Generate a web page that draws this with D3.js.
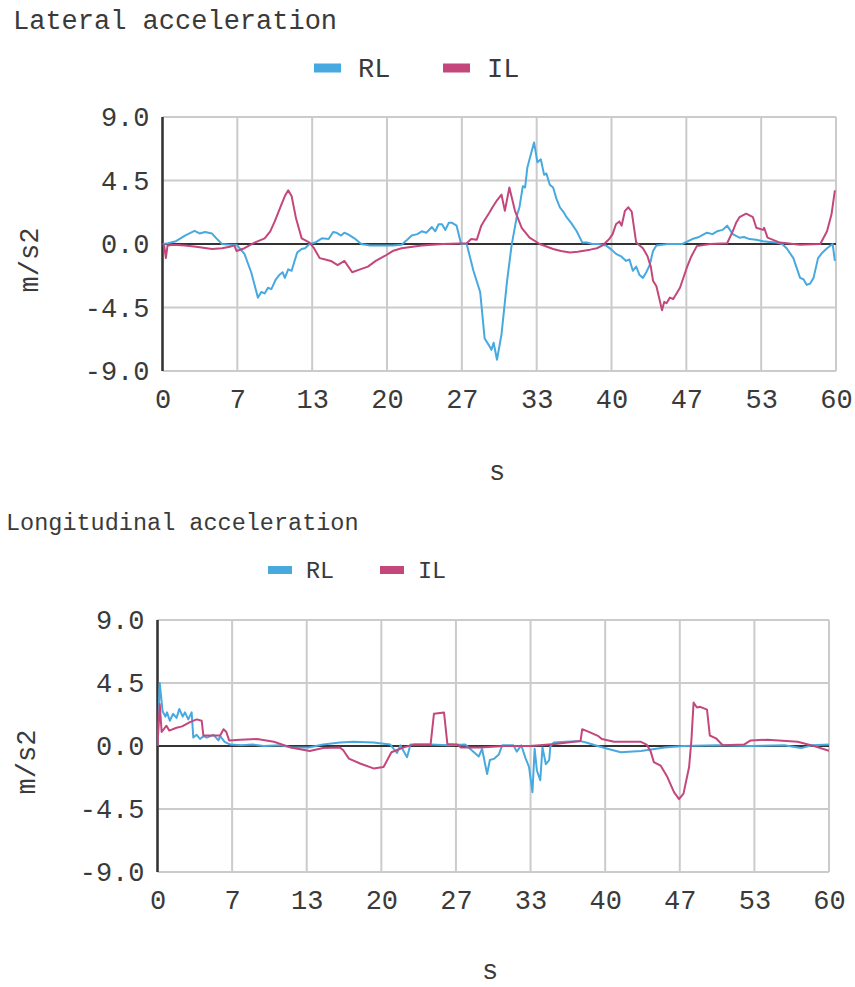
<!DOCTYPE html>
<html><head><meta charset="utf-8">
<script src="https://cdn.jsdelivr.net/npm/d3@7"></script>
<style>
html,body{margin:0;padding:0;background:#fff;}
text{font-family:"Liberation Mono","DejaVu Sans Mono",monospace;fill:#3a3a3a;}
</style></head>
<body>
<svg id="chart" width="855" height="987"></svg>
<script>
// ---------- DATA ----------
const seriesNames = ["RL", "IL"];
const xTickValues = [0, 60/9, 120/9, 20, 240/9, 300/9, 40, 420/9, 480/9, 60];
const xTickLabels = ["0","7","13","20","27","33","40","47","53","60"];
const yTickValues = [9, 4.5, 0, -4.5, -9];
const yTickLabels = ["9.0","4.5","0.0","-4.5","-9.0"];

// Lateral acceleration [time s, m/s2]
const latRL = [[0,0],[0.5,0.05],[1.2,0.2],[2,0.6],[2.85,0.93],[3.3,0.75],[3.8,0.85],[4.4,0.75],[4.8,0.4],[5.3,0],[6,-0.05],[6.6,-0.05],[7.3,-0.7],[7.9,-2.0],[8.5,-3.8],[8.8,-3.4],[9.1,-3.5],[9.4,-3.1],[9.7,-3.2],[10.1,-2.5],[10.4,-2.2],[10.7,-2.0],[10.9,-2.4],[11.2,-1.8],[11.5,-1.9],[12.0,-0.6],[12.4,-0.35],[12.7,-0.3],[13.1,0],[13.6,0.1],[14.2,0.4],[14.8,0.35],[15.2,0.85],[15.5,0.8],[15.9,0.6],[16.2,0.8],[16.5,0.7],[17.1,0.4],[17.7,0],[18.5,-0.1],[19.5,-0.1],[20.5,-0.1],[21.3,-0.05],[21.8,0.3],[22.2,0.6],[22.7,0.7],[23.1,0.9],[23.5,0.8],[24.0,1.2],[24.3,0.9],[24.6,1.4],[24.9,1.4],[25.2,1.0],[25.5,1.5],[25.8,1.5],[26.2,1.3],[26.6,0],[27.1,0],[27.7,-1.9],[28.3,-3.4],[28.7,-6.7],[29.1,-7.2],[29.3,-7.5],[29.5,-7.0],[29.8,-8.2],[30.2,-6.4],[30.7,-2.6],[31.1,-0.1],[31.6,2.1],[31.8,2.6],[32.1,4.1],[32.3,4.0],[32.5,5.4],[32.8,6.3],[33.1,7.2],[33.4,5.8],[33.7,6.0],[34.0,4.9],[34.2,5.0],[34.5,4.2],[34.8,4.0],[35.1,3.2],[35.4,2.6],[35.7,2.3],[36.0,1.9],[36.4,1.5],[36.9,0.9],[37.4,0.1],[37.8,0.1],[38.3,0],[38.9,0],[39.5,-0.1],[40.0,-0.4],[40.4,-0.7],[40.9,-0.9],[41.3,-1.2],[41.6,-1.1],[41.9,-1.9],[42.2,-1.6],[42.5,-2.2],[42.8,-2.4],[43.1,-2.0],[43.4,-1.5],[43.7,-0.5],[44.0,-0.1],[45,0],[46.3,0],[47.2,0.35],[47.8,0.5],[48.5,0.8],[49.0,0.7],[49.4,0.9],[49.9,1.0],[50.3,1.3],[50.8,0.7],[51.4,0.45],[51.8,0.5],[52.3,0.35],[52.9,0.3],[53.5,0.2],[54.1,0.15],[54.7,0.1],[55.2,0],[55.6,-0.3],[56.2,-1.0],[56.8,-2.4],[57.1,-2.5],[57.4,-2.9],[57.7,-2.8],[58.0,-2.4],[58.4,-1.0],[58.8,-0.6],[59.2,-0.3],[59.7,0],[59.9,-1.2]];
const latIL = [[0,0],[0.15,-0.1],[0.3,-1.0],[0.45,-0.1],[1,-0.05],[2,-0.1],[3,-0.2],[4.4,-0.35],[5.3,-0.3],[6.0,-0.2],[6.4,-0.1],[6.6,-0.5],[7.3,-0.3],[8.2,0.1],[9.1,0.4],[9.6,0.9],[10.0,1.6],[10.3,2.2],[10.6,2.8],[10.9,3.4],[11.2,3.8],[11.5,3.4],[11.9,1.8],[12.4,0.4],[13.1,0.1],[13.5,-0.3],[14.0,-1.0],[14.5,-1.1],[15.0,-1.2],[15.6,-1.5],[16.2,-1.2],[16.9,-2.0],[17.6,-1.8],[18.3,-1.6],[19.0,-1.2],[19.8,-0.85],[20.5,-0.5],[21.3,-0.3],[23.1,-0.1],[25,0],[27.1,0.05],[27.5,0.35],[28.0,0.3],[28.4,1.3],[28.7,1.7],[29.1,2.2],[29.4,2.6],[29.8,3.1],[30.2,3.5],[30.5,2.35],[30.9,4.0],[31.4,2.35],[32.0,1.15],[32.7,0.45],[33.6,0],[34.8,-0.35],[35.5,-0.5],[36.3,-0.6],[37.0,-0.55],[37.4,-0.5],[38.1,-0.4],[38.7,-0.3],[39.2,-0.1],[39.8,0.35],[40.1,0.7],[40.4,1.4],[40.7,1.6],[40.9,1.3],[41.2,2.35],[41.5,2.6],[41.8,2.3],[42.0,1.2],[42.2,0.1],[42.8,-0.3],[43.2,-0.85],[43.5,-1.6],[43.7,-2.6],[44.0,-3.0],[44.3,-4.0],[44.5,-4.7],[44.7,-4.1],[44.9,-4.2],[45.2,-3.8],[45.5,-3.9],[46.1,-3.1],[46.7,-1.7],[47.1,-0.9],[47.6,-0.15],[48.8,0],[50.3,0.05],[50.8,0.9],[51.1,1.5],[51.4,1.9],[52.0,2.15],[52.6,1.9],[52.9,1.15],[53.5,1.0],[53.6,1.15],[53.9,0.45],[55.0,0.1],[56.8,-0.05],[58.6,0],[59.2,0.9],[59.6,2.1],[59.9,3.8]];

// Longitudinal acceleration [time s, m/s2]
const lonRL = [[0,0],[0.2,4.5],[0.45,2.5],[0.7,2.1],[0.85,2.4],[1.1,1.8],[1.4,2.3],[1.7,2.0],[1.95,2.65],[2.25,2.1],[2.45,2.4],[2.75,1.9],[3.05,2.4],[3.2,0.6],[3.5,0.8],[3.8,0.5],[4.1,0.7],[4.4,0.6],[5.0,0.8],[5.45,0.4],[5.6,0.7],[6.0,0.3],[6.5,0.1],[7.5,0.05],[8.5,0.1],[9.5,0.0],[11,0.05],[12,-0.1],[13.5,-0.1],[14.8,0.1],[16.3,0.25],[17.5,0.3],[19.3,0.25],[20.8,0.1],[21.4,-0.5],[21.7,0.05],[22.3,-0.8],[22.6,0.1],[24.4,0.1],[26,0.05],[27.5,0.1],[28.7,-0.75],[29.0,-0.2],[29.45,-2.0],[29.7,-1.0],[30.1,-0.9],[30.5,-0.6],[30.8,0.05],[31.8,0.05],[32.1,-0.4],[32.5,0.05],[32.9,-0.9],[33.2,-1.5],[33.5,-3.3],[33.7,-0.2],[33.9,-1.75],[34.2,-2.45],[34.4,-0.1],[34.7,-1.3],[35.0,-1.0],[35.1,-0.05],[35.4,0.25],[36.5,0.3],[37.8,0.35],[38.3,0.25],[39.1,0.05],[40.2,-0.2],[41.4,-0.45],[43.2,-0.35],[45.3,-0.1],[47,0],[50,0.05],[53,0],[56,0.05],[57.5,-0.15],[58.5,0.05],[60,0.1]];
const lonIL = [[0,0],[0.2,3.0],[0.37,1.0],[0.8,1.45],[1.05,1.1],[1.7,1.3],[2.2,1.4],[2.9,1.7],[3.5,1.9],[3.95,1.8],[4.1,0.75],[5.6,0.75],[5.9,1.2],[6.15,1.0],[6.4,0.4],[7.4,0.45],[8.9,0.5],[10.4,0.3],[11.9,-0.1],[13.6,-0.35],[14.8,-0.15],[16.3,-0.1],[16.6,-0.3],[17.1,-0.9],[18.1,-1.25],[19.3,-1.6],[20.2,-1.5],[20.9,-0.45],[22.0,-0.1],[22.9,0.1],[24.4,0.1],[24.7,2.3],[25.6,2.4],[25.9,0.15],[26.8,0.1],[27.1,-0.1],[28.8,-0.1],[31,0],[33.3,0],[35.5,0.15],[37.8,0.35],[37.95,1.2],[38.7,0.95],[39.4,0.7],[39.7,0.5],[40.8,0.3],[43.2,0.3],[43.7,0.1],[44.05,-0.35],[44.35,-1.15],[44.95,-1.4],[45.55,-2.2],[46.15,-3.3],[46.6,-3.8],[47.0,-3.4],[47.5,-1.5],[47.7,0.35],[47.9,3.1],[48.2,2.75],[48.5,2.8],[49.1,2.6],[49.35,0.75],[49.9,0.55],[50.5,0.05],[52.4,0.1],[53.0,0.4],[54.5,0.45],[57.2,0.3],[58.65,0],[60,-0.35]];

const colors = {RL: "#47a9e0", IL: "#c4477c"};

// ---------- DRAW ----------
const svg = d3.select("#chart");

function drawChart(cfg) {
  const g = svg.append("g");
  const x = d3.scaleLinear().domain([0, 60]).range([cfg.left, cfg.right]);
  const y = d3.scaleLinear().domain([-9, 9]).range([cfg.bottom, cfg.top]);

  // title
  g.append("text").attr("x", cfg.titleX).attr("y", cfg.titleY)
    .style("font-size", cfg.titleSize + "px").text(cfg.title);

  // legend
  seriesNames.forEach((name, i) => {
    g.append("rect").attr("x", cfg.legX[i]).attr("y", cfg.legY - cfg.swH / 2)
      .attr("width", cfg.swW).attr("height", cfg.swH).attr("fill", colors[name]);
    g.append("text").attr("x", cfg.legX[i] + cfg.legTextOff).attr("y", cfg.legY)
      .attr("dy", "0.35em").style("font-size", cfg.legSize + "px").text(name);
  });

  // grid
  const grid = g.append("g").attr("stroke", "#cbcbcb").attr("stroke-width", 2);
  xTickValues.forEach(v => {
    grid.append("line").attr("x1", x(v)).attr("x2", x(v)).attr("y1", cfg.top).attr("y2", cfg.bottom);
  });
  yTickValues.forEach(v => {
    grid.append("line").attr("x1", cfg.left).attr("x2", cfg.right).attr("y1", y(v)).attr("y2", y(v));
  });

  // axes labels via d3 axis
  const xAxis = d3.axisBottom(x).tickValues(xTickValues)
    .tickFormat((d, i) => xTickLabels[i]).tickSize(0).tickPadding(cfg.xPad);
  const xa = g.append("g").attr("transform", `translate(0,${cfg.bottom})`).call(xAxis);
  xa.select(".domain").remove();
  xa.selectAll("text").style("font-size", cfg.tickSize + "px").attr("fill", "#3a3a3a");

  const yAxis = d3.axisLeft(y).tickValues(yTickValues)
    .tickFormat((d, i) => yTickLabels[i]).tickSize(0).tickPadding(cfg.yPad);
  const ya = g.append("g").attr("transform", `translate(${cfg.left},0)`).call(yAxis);
  ya.select(".domain").remove();
  ya.selectAll("text").style("font-size", cfg.tickSize + "px").attr("fill", "#3a3a3a");

  // left axis
  g.append("line").attr("x1", cfg.left).attr("x2", cfg.left).attr("y1", cfg.top).attr("y2", cfg.bottom)
    .attr("stroke", "#333").attr("stroke-width", 2.5);

  // series
  const line = d3.line().x(d => x(d[0])).y(d => y(d[1]));
  const clipId = "clip" + cfg.id;
  g.append("clipPath").attr("id", clipId).append("rect")
    .attr("x", cfg.left).attr("y", cfg.top).attr("width", cfg.right - cfg.left).attr("height", cfg.bottom - cfg.top);
  g.append("line").attr("x1", cfg.left).attr("x2", cfg.right).attr("y1", y(0)).attr("y2", y(0))
    .attr("stroke", "#333").attr("stroke-width", 2);
  cfg.series.forEach((data, i) => {
    g.append("path").datum(data).attr("d", line).attr("fill", "none")
      .attr("stroke", colors[seriesNames[i]]).attr("stroke-width", 2)
      .attr("stroke-linejoin", "round").attr("clip-path", `url(#${clipId})`);
  });

  // axis titles
  g.append("text").attr("x", cfg.xTitleX).attr("y", cfg.xTitleY).attr("text-anchor", "middle")
    .style("font-size", cfg.tickSize + "px").text("s");
  g.append("text").attr("transform", `translate(${cfg.yTitleX},${cfg.yTitleY}) rotate(-90)`)
    .attr("text-anchor", "middle").attr("dy", "0.35em")
    .style("font-size", cfg.tickSize + "px").text("m/s2");
}

drawChart({
  id: 1, title: "Lateral acceleration", titleX: 13, titleY: 29, titleSize: 27,
  legX: [314, 443], legY: 68, swW: 27, swH: 9, legTextOff: 44, legSize: 27,
  left: 162.5, right: 836, top: 117, bottom: 371,
  tickSize: 27, xPad: 18, yPad: 13,
  xTitleX: 497, xTitleY: 480, yTitleX: 29, yTitleY: 260,
  series: [latRL, latIL]
});

drawChart({
  id: 2, title: "Longitudinal acceleration", titleX: 6, titleY: 530, titleSize: 23.5,
  legX: [268, 380], legY: 570, swW: 24, swH: 8, legTextOff: 38, legSize: 23.5,
  left: 157.5, right: 829, top: 620, bottom: 872,
  tickSize: 27, xPad: 18, yPad: 13,
  xTitleX: 490, xTitleY: 979, yTitleX: 26, yTitleY: 762,
  series: [lonRL, lonIL]
});
</script>
</body></html>
